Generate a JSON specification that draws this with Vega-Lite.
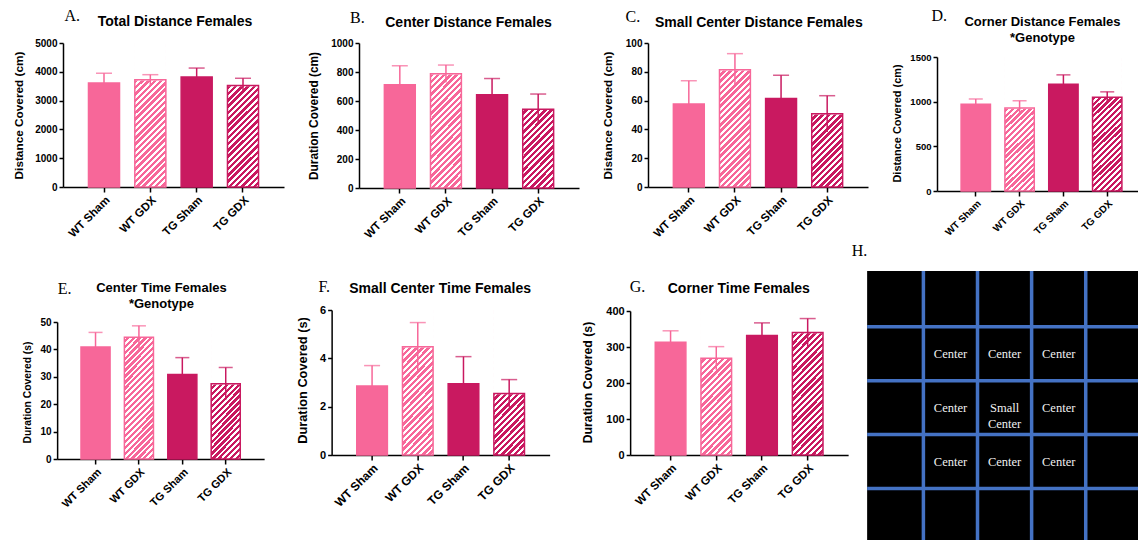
{
  "$schema": "https://vega.github.io/schema/vega-lite/v6.json",
  "background": "white",
  "padding": {"left": 12, "top": 7, "right": 0, "bottom": 0},
  "params": [
    {"name": "hatchWT", "value": {"gradient": "linear", "x1": 0, "y1": 0, "x2": 0.25, "y2": 1.1614, "stops": [
      {"offset":0,"color":"#f76799"},{"offset":0.0196,"color":"#f76799"},{"offset":0.0196,"color":"#fff"},{"offset":0.0357,"color":"#fff"},
      {"offset":0.0357,"color":"#f76799"},{"offset":0.0554,"color":"#f76799"},{"offset":0.0554,"color":"#fff"},{"offset":0.0714,"color":"#fff"},
      {"offset":0.0714,"color":"#f76799"},{"offset":0.0911,"color":"#f76799"},{"offset":0.0911,"color":"#fff"},{"offset":0.1071,"color":"#fff"},
      {"offset":0.1071,"color":"#f76799"},{"offset":0.1268,"color":"#f76799"},{"offset":0.1268,"color":"#fff"},{"offset":0.1429,"color":"#fff"},
      {"offset":0.1429,"color":"#f76799"},{"offset":0.1625,"color":"#f76799"},{"offset":0.1625,"color":"#fff"},{"offset":0.1786,"color":"#fff"},
      {"offset":0.1786,"color":"#f76799"},{"offset":0.1982,"color":"#f76799"},{"offset":0.1982,"color":"#fff"},{"offset":0.2143,"color":"#fff"},
      {"offset":0.2143,"color":"#f76799"},{"offset":0.2339,"color":"#f76799"},{"offset":0.2339,"color":"#fff"},{"offset":0.25,"color":"#fff"},
      {"offset":0.25,"color":"#f76799"},{"offset":0.2696,"color":"#f76799"},{"offset":0.2696,"color":"#fff"},{"offset":0.2857,"color":"#fff"},
      {"offset":0.2857,"color":"#f76799"},{"offset":0.3054,"color":"#f76799"},{"offset":0.3054,"color":"#fff"},{"offset":0.3214,"color":"#fff"},
      {"offset":0.3214,"color":"#f76799"},{"offset":0.3411,"color":"#f76799"},{"offset":0.3411,"color":"#fff"},{"offset":0.3571,"color":"#fff"},
      {"offset":0.3571,"color":"#f76799"},{"offset":0.3768,"color":"#f76799"},{"offset":0.3768,"color":"#fff"},{"offset":0.3929,"color":"#fff"},
      {"offset":0.3929,"color":"#f76799"},{"offset":0.4125,"color":"#f76799"},{"offset":0.4125,"color":"#fff"},{"offset":0.4286,"color":"#fff"},
      {"offset":0.4286,"color":"#f76799"},{"offset":0.4482,"color":"#f76799"},{"offset":0.4482,"color":"#fff"},{"offset":0.4643,"color":"#fff"},
      {"offset":0.4643,"color":"#f76799"},{"offset":0.4839,"color":"#f76799"},{"offset":0.4839,"color":"#fff"},{"offset":0.5,"color":"#fff"},
      {"offset":0.5,"color":"#f76799"},{"offset":0.5196,"color":"#f76799"},{"offset":0.5196,"color":"#fff"},{"offset":0.5357,"color":"#fff"},
      {"offset":0.5357,"color":"#f76799"},{"offset":0.5554,"color":"#f76799"},{"offset":0.5554,"color":"#fff"},{"offset":0.5714,"color":"#fff"},
      {"offset":0.5714,"color":"#f76799"},{"offset":0.5911,"color":"#f76799"},{"offset":0.5911,"color":"#fff"},{"offset":0.6071,"color":"#fff"},
      {"offset":0.6071,"color":"#f76799"},{"offset":0.6268,"color":"#f76799"},{"offset":0.6268,"color":"#fff"},{"offset":0.6429,"color":"#fff"},
      {"offset":0.6429,"color":"#f76799"},{"offset":0.6625,"color":"#f76799"},{"offset":0.6625,"color":"#fff"},{"offset":0.6786,"color":"#fff"},
      {"offset":0.6786,"color":"#f76799"},{"offset":0.6982,"color":"#f76799"},{"offset":0.6982,"color":"#fff"},{"offset":0.7143,"color":"#fff"},
      {"offset":0.7143,"color":"#f76799"},{"offset":0.7339,"color":"#f76799"},{"offset":0.7339,"color":"#fff"},{"offset":0.75,"color":"#fff"},
      {"offset":0.75,"color":"#f76799"},{"offset":0.7696,"color":"#f76799"},{"offset":0.7696,"color":"#fff"},{"offset":0.7857,"color":"#fff"},
      {"offset":0.7857,"color":"#f76799"},{"offset":0.8054,"color":"#f76799"},{"offset":0.8054,"color":"#fff"},{"offset":0.8214,"color":"#fff"},
      {"offset":0.8214,"color":"#f76799"},{"offset":0.8411,"color":"#f76799"},{"offset":0.8411,"color":"#fff"},{"offset":0.8571,"color":"#fff"},
      {"offset":0.8571,"color":"#f76799"},{"offset":0.8768,"color":"#f76799"},{"offset":0.8768,"color":"#fff"},{"offset":0.8929,"color":"#fff"},
      {"offset":0.8929,"color":"#f76799"},{"offset":0.9125,"color":"#f76799"},{"offset":0.9125,"color":"#fff"},{"offset":0.9286,"color":"#fff"},
      {"offset":0.9286,"color":"#f76799"},{"offset":0.9482,"color":"#f76799"},{"offset":0.9482,"color":"#fff"},{"offset":0.9643,"color":"#fff"},
      {"offset":0.9643,"color":"#f76799"},{"offset":0.9839,"color":"#f76799"},{"offset":0.9839,"color":"#fff"},{"offset":1,"color":"#fff"}
    ]}},
    {"name": "hatchTG", "value": {"gradient": "linear", "x1": 0, "y1": 0, "x2": 0.25, "y2": 1.1614, "stops": [
      {"offset":0,"color":"#c91960"},{"offset":0.0196,"color":"#c91960"},{"offset":0.0196,"color":"#fff"},{"offset":0.0357,"color":"#fff"},
      {"offset":0.0357,"color":"#c91960"},{"offset":0.0554,"color":"#c91960"},{"offset":0.0554,"color":"#fff"},{"offset":0.0714,"color":"#fff"},
      {"offset":0.0714,"color":"#c91960"},{"offset":0.0911,"color":"#c91960"},{"offset":0.0911,"color":"#fff"},{"offset":0.1071,"color":"#fff"},
      {"offset":0.1071,"color":"#c91960"},{"offset":0.1268,"color":"#c91960"},{"offset":0.1268,"color":"#fff"},{"offset":0.1429,"color":"#fff"},
      {"offset":0.1429,"color":"#c91960"},{"offset":0.1625,"color":"#c91960"},{"offset":0.1625,"color":"#fff"},{"offset":0.1786,"color":"#fff"},
      {"offset":0.1786,"color":"#c91960"},{"offset":0.1982,"color":"#c91960"},{"offset":0.1982,"color":"#fff"},{"offset":0.2143,"color":"#fff"},
      {"offset":0.2143,"color":"#c91960"},{"offset":0.2339,"color":"#c91960"},{"offset":0.2339,"color":"#fff"},{"offset":0.25,"color":"#fff"},
      {"offset":0.25,"color":"#c91960"},{"offset":0.2696,"color":"#c91960"},{"offset":0.2696,"color":"#fff"},{"offset":0.2857,"color":"#fff"},
      {"offset":0.2857,"color":"#c91960"},{"offset":0.3054,"color":"#c91960"},{"offset":0.3054,"color":"#fff"},{"offset":0.3214,"color":"#fff"},
      {"offset":0.3214,"color":"#c91960"},{"offset":0.3411,"color":"#c91960"},{"offset":0.3411,"color":"#fff"},{"offset":0.3571,"color":"#fff"},
      {"offset":0.3571,"color":"#c91960"},{"offset":0.3768,"color":"#c91960"},{"offset":0.3768,"color":"#fff"},{"offset":0.3929,"color":"#fff"},
      {"offset":0.3929,"color":"#c91960"},{"offset":0.4125,"color":"#c91960"},{"offset":0.4125,"color":"#fff"},{"offset":0.4286,"color":"#fff"},
      {"offset":0.4286,"color":"#c91960"},{"offset":0.4482,"color":"#c91960"},{"offset":0.4482,"color":"#fff"},{"offset":0.4643,"color":"#fff"},
      {"offset":0.4643,"color":"#c91960"},{"offset":0.4839,"color":"#c91960"},{"offset":0.4839,"color":"#fff"},{"offset":0.5,"color":"#fff"},
      {"offset":0.5,"color":"#c91960"},{"offset":0.5196,"color":"#c91960"},{"offset":0.5196,"color":"#fff"},{"offset":0.5357,"color":"#fff"},
      {"offset":0.5357,"color":"#c91960"},{"offset":0.5554,"color":"#c91960"},{"offset":0.5554,"color":"#fff"},{"offset":0.5714,"color":"#fff"},
      {"offset":0.5714,"color":"#c91960"},{"offset":0.5911,"color":"#c91960"},{"offset":0.5911,"color":"#fff"},{"offset":0.6071,"color":"#fff"},
      {"offset":0.6071,"color":"#c91960"},{"offset":0.6268,"color":"#c91960"},{"offset":0.6268,"color":"#fff"},{"offset":0.6429,"color":"#fff"},
      {"offset":0.6429,"color":"#c91960"},{"offset":0.6625,"color":"#c91960"},{"offset":0.6625,"color":"#fff"},{"offset":0.6786,"color":"#fff"},
      {"offset":0.6786,"color":"#c91960"},{"offset":0.6982,"color":"#c91960"},{"offset":0.6982,"color":"#fff"},{"offset":0.7143,"color":"#fff"},
      {"offset":0.7143,"color":"#c91960"},{"offset":0.7339,"color":"#c91960"},{"offset":0.7339,"color":"#fff"},{"offset":0.75,"color":"#fff"},
      {"offset":0.75,"color":"#c91960"},{"offset":0.7696,"color":"#c91960"},{"offset":0.7696,"color":"#fff"},{"offset":0.7857,"color":"#fff"},
      {"offset":0.7857,"color":"#c91960"},{"offset":0.8054,"color":"#c91960"},{"offset":0.8054,"color":"#fff"},{"offset":0.8214,"color":"#fff"},
      {"offset":0.8214,"color":"#c91960"},{"offset":0.8411,"color":"#c91960"},{"offset":0.8411,"color":"#fff"},{"offset":0.8571,"color":"#fff"},
      {"offset":0.8571,"color":"#c91960"},{"offset":0.8768,"color":"#c91960"},{"offset":0.8768,"color":"#fff"},{"offset":0.8929,"color":"#fff"},
      {"offset":0.8929,"color":"#c91960"},{"offset":0.9125,"color":"#c91960"},{"offset":0.9125,"color":"#fff"},{"offset":0.9286,"color":"#fff"},
      {"offset":0.9286,"color":"#c91960"},{"offset":0.9482,"color":"#c91960"},{"offset":0.9482,"color":"#fff"},{"offset":0.9643,"color":"#fff"},
      {"offset":0.9643,"color":"#c91960"},{"offset":0.9839,"color":"#c91960"},{"offset":0.9839,"color":"#fff"},{"offset":1,"color":"#fff"}
    ]}}
  ],
  "config": {
    "view": {"stroke": null},
    "axis": {"labelFont": "Liberation Sans", "labelFontWeight": "bold", "labelColor": "black", "titleFont": "Liberation Sans", "titleFontWeight": "bold", "titleColor": "black", "domainColor": "black", "tickColor": "black", "domainWidth": 1.5, "tickWidth": 1.5, "grid": false, "labelOverlap": false, "labelFlush": false, "zindex": 1}
  },
  "vconcat": [
    {
      "spacing": 23,
      "hconcat": [
        {
          "width": 221, "height": 144,
          "data": {"values": [
            {"g": "WT Sham", "m": 3610, "lo": 3270, "hi": 3950},
            {"g": "WT GDX", "m": 3720, "lo": 3540, "hi": 3900},
            {"g": "TG Sham", "m": 3820, "lo": 3510, "hi": 4130},
            {"g": "TG GDX", "m": 3520, "lo": 3265, "hi": 3775}
          ]},
          "encoding": {"x": {"field": "g", "type": "nominal", "sort": null, "scale": {"domain": ["WT Sham", "WT GDX", "TG Sham", "TG GDX"], "paddingInner": 0.33, "paddingOuter": 0.55}, "axis": null}},
          "layer": [
            {"transform": [{"filter": "datum.g === 'WT GDX'"}], "mark": {"type": "bar", "fill": {"expr": "hatchWT"}}, "encoding": {"y": {"datum": 5000, "type": "quantitative", "scale": {"domain": [0, 5000], "nice": false}, "axis": null}, "y2": {"datum": 0}}},
            {"transform": [{"filter": "datum.g === 'TG GDX'"}], "mark": {"type": "bar", "fill": {"expr": "hatchTG"}}, "encoding": {"y": {"datum": 5000, "type": "quantitative", "axis": null}, "y2": {"datum": 0}}},
            {"transform": [{"filter": "indexof(datum.g, 'GDX') >= 0"}], "mark": {"type": "bar", "fill": "white", "stroke": "white", "strokeWidth": 1.5}, "encoding": {"y": {"field": "m", "type": "quantitative", "axis": null}, "y2": {"datum": 5000}}},
            {"mark": {"type": "rule", "strokeWidth": 1.5}, "encoding": {"y": {"field": "lo", "type": "quantitative", "axis": null}, "y2": {"field": "hi"}, "color": {"field": "g", "type": "nominal", "scale": {"domain": ["WT Sham", "WT GDX", "TG Sham", "TG GDX"], "range": ["#f76799", "#f76799", "#c91960", "#c91960"]}, "legend": null}}},
            {"mark": {"type": "tick", "orient": "horizontal", "size": 16, "thickness": 1.5}, "encoding": {
              "x": {"field": "g", "type": "nominal", "sort": null, "scale": {"domain": ["WT Sham", "WT GDX", "TG Sham", "TG GDX"]}, "axis": {"orient": "top", "domain": false, "ticks": false, "labels": false, "minExtent": 0, "title": "Total Distance Females", "titleFontSize": 14, "titleAngle": 0, "titleAlign": "center", "titleBaseline": "alphabetic", "titleX": 111.5, "titleY": -18}},
              "y": {"field": "hi", "type": "quantitative", "axis": {"orient": "right", "domain": false, "ticks": false, "labels": false, "minExtent": 0, "title": "A.", "titleFont": "Liberation Serif", "titleFontWeight": "normal", "titleFontSize": 16, "titleAngle": 0, "titleAlign": "left", "titleBaseline": "alphabetic", "titleX": -220, "titleY": -23}},
              "color": {"field": "g", "type": "nominal", "scale": {"domain": ["WT Sham", "WT GDX", "TG Sham", "TG GDX"], "range": ["#f76799", "#f76799", "#c91960", "#c91960"]}, "legend": null}}},
            {"mark": {"type": "bar", "strokeWidth": 1.5}, "encoding": {
              "x": {"field": "g", "type": "nominal", "sort": null, "scale": {"domain": ["WT Sham", "WT GDX", "TG Sham", "TG GDX"]}, "axis": {"orient": "bottom", "title": null, "labelAngle": -45, "labelAlign": "right", "labelBaseline": "top", "labelFontSize": 11.5, "labelPadding": 2, "tickSize": 5}},
              "y": {"field": "m", "type": "quantitative", "scale": {"domain": [0, 5000], "nice": false}, "axis": {"orient": "left", "values": [0, 1000, 2000, 3000, 4000, 5000], "format": "d", "title": "Distance Covered (cm)", "titleFontSize": 11.8, "titleAngle": -90, "titleAlign": "center", "titleBaseline": "alphabetic", "titleX": -41, "titleY": 72, "labelFontSize": 10, "labelPadding": 2, "tickSize": 4}},
              "fill": {"field": "g", "type": "nominal", "scale": {"domain": ["WT Sham", "WT GDX", "TG Sham", "TG GDX"], "range": ["#f76799", "transparent", "#c91960", "transparent"]}, "legend": null},
              "stroke": {"field": "g", "type": "nominal", "scale": {"domain": ["WT Sham", "WT GDX", "TG Sham", "TG GDX"], "range": ["#f76799", "#f76799", "#c91960", "#c91960"]}, "legend": null}}}
          ],
          "resolve": {"axis": {"x": "independent", "y": "independent"}}
        },
        {
          "width": 220, "height": 145,
          "data": {"values": [
            {"g": "WT Sham", "m": 712, "lo": 581, "hi": 843},
            {"g": "WT GDX", "m": 788, "lo": 728, "hi": 848},
            {"g": "TG Sham", "m": 643, "lo": 531, "hi": 755},
            {"g": "TG GDX", "m": 543, "lo": 438, "hi": 648}
          ]},
          "encoding": {"x": {"field": "g", "type": "nominal", "sort": null, "scale": {"domain": ["WT Sham", "WT GDX", "TG Sham", "TG GDX"], "paddingInner": 0.33, "paddingOuter": 0.55}, "axis": null}},
          "layer": [
            {"transform": [{"filter": "datum.g === 'WT GDX'"}], "mark": {"type": "bar", "fill": {"expr": "hatchWT"}}, "encoding": {"y": {"datum": 1000, "type": "quantitative", "scale": {"domain": [0, 1000], "nice": false}, "axis": null}, "y2": {"datum": 0}}},
            {"transform": [{"filter": "datum.g === 'TG GDX'"}], "mark": {"type": "bar", "fill": {"expr": "hatchTG"}}, "encoding": {"y": {"datum": 1000, "type": "quantitative", "axis": null}, "y2": {"datum": 0}}},
            {"transform": [{"filter": "indexof(datum.g, 'GDX') >= 0"}], "mark": {"type": "bar", "fill": "white", "stroke": "white", "strokeWidth": 1.5}, "encoding": {"y": {"field": "m", "type": "quantitative", "axis": null}, "y2": {"datum": 1000}}},
            {"mark": {"type": "rule", "strokeWidth": 1.5}, "encoding": {"y": {"field": "lo", "type": "quantitative", "axis": null}, "y2": {"field": "hi"}, "color": {"field": "g", "type": "nominal", "scale": {"domain": ["WT Sham", "WT GDX", "TG Sham", "TG GDX"], "range": ["#f76799", "#f76799", "#c91960", "#c91960"]}, "legend": null}}},
            {"mark": {"type": "tick", "orient": "horizontal", "size": 16, "thickness": 1.5}, "encoding": {
              "x": {"field": "g", "type": "nominal", "sort": null, "scale": {"domain": ["WT Sham", "WT GDX", "TG Sham", "TG GDX"]}, "axis": {"orient": "top", "domain": false, "ticks": false, "labels": false, "minExtent": 0, "title": "Center Distance Females", "titleFontSize": 14, "titleAngle": 0, "titleAlign": "center", "titleBaseline": "alphabetic", "titleX": 109, "titleY": -17}},
              "y": {"field": "hi", "type": "quantitative", "axis": {"orient": "right", "domain": false, "ticks": false, "labels": false, "minExtent": 0, "title": "B.", "titleFont": "Liberation Serif", "titleFontWeight": "normal", "titleFontSize": 16, "titleAngle": 0, "titleAlign": "left", "titleBaseline": "alphabetic", "titleX": -229.5, "titleY": -21}},
              "color": {"field": "g", "type": "nominal", "scale": {"domain": ["WT Sham", "WT GDX", "TG Sham", "TG GDX"], "range": ["#f76799", "#f76799", "#c91960", "#c91960"]}, "legend": null}}},
            {"mark": {"type": "bar", "strokeWidth": 1.5}, "encoding": {
              "x": {"field": "g", "type": "nominal", "sort": null, "scale": {"domain": ["WT Sham", "WT GDX", "TG Sham", "TG GDX"]}, "axis": {"orient": "bottom", "title": null, "labelAngle": -45, "labelAlign": "right", "labelBaseline": "top", "labelFontSize": 11.5, "labelPadding": 2, "tickSize": 5}},
              "y": {"field": "m", "type": "quantitative", "scale": {"domain": [0, 1000], "nice": false}, "axis": {"orient": "left", "values": [0, 200, 400, 600, 800, 1000], "format": "d", "title": "Duration Covered (cm)", "titleFontSize": 11.9, "titleAngle": -90, "titleAlign": "center", "titleBaseline": "alphabetic", "titleX": -41.5, "titleY": 72.5, "labelFontSize": 10, "labelPadding": 2, "tickSize": 4}},
              "fill": {"field": "g", "type": "nominal", "scale": {"domain": ["WT Sham", "WT GDX", "TG Sham", "TG GDX"], "range": ["#f76799", "transparent", "#c91960", "transparent"]}, "legend": null},
              "stroke": {"field": "g", "type": "nominal", "scale": {"domain": ["WT Sham", "WT GDX", "TG Sham", "TG GDX"], "range": ["#f76799", "#f76799", "#c91960", "#c91960"]}, "legend": null}}}
          ],
          "resolve": {"axis": {"x": "independent", "y": "independent"}}
        },
        {
          "width": 220, "height": 144,
          "data": {"values": [
            {"g": "WT Sham", "m": 57.6, "lo": 41.4, "hi": 73.8},
            {"g": "WT GDX", "m": 81.5, "lo": 70.4, "hi": 92.6},
            {"g": "TG Sham", "m": 61.5, "lo": 45.4, "hi": 77.6},
            {"g": "TG GDX", "m": 50.8, "lo": 38.2, "hi": 63.4}
          ]},
          "encoding": {"x": {"field": "g", "type": "nominal", "sort": null, "scale": {"domain": ["WT Sham", "WT GDX", "TG Sham", "TG GDX"], "paddingInner": 0.33, "paddingOuter": 0.55}, "axis": null}},
          "layer": [
            {"transform": [{"filter": "datum.g === 'WT GDX'"}], "mark": {"type": "bar", "fill": {"expr": "hatchWT"}}, "encoding": {"y": {"datum": 100, "type": "quantitative", "scale": {"domain": [0, 100], "nice": false}, "axis": null}, "y2": {"datum": 0}}},
            {"transform": [{"filter": "datum.g === 'TG GDX'"}], "mark": {"type": "bar", "fill": {"expr": "hatchTG"}}, "encoding": {"y": {"datum": 100, "type": "quantitative", "axis": null}, "y2": {"datum": 0}}},
            {"transform": [{"filter": "indexof(datum.g, 'GDX') >= 0"}], "mark": {"type": "bar", "fill": "white", "stroke": "white", "strokeWidth": 1.5}, "encoding": {"y": {"field": "m", "type": "quantitative", "axis": null}, "y2": {"datum": 100}}},
            {"mark": {"type": "rule", "strokeWidth": 1.5}, "encoding": {"y": {"field": "lo", "type": "quantitative", "axis": null}, "y2": {"field": "hi"}, "color": {"field": "g", "type": "nominal", "scale": {"domain": ["WT Sham", "WT GDX", "TG Sham", "TG GDX"], "range": ["#f76799", "#f76799", "#c91960", "#c91960"]}, "legend": null}}},
            {"mark": {"type": "tick", "orient": "horizontal", "size": 16, "thickness": 1.5}, "encoding": {
              "x": {"field": "g", "type": "nominal", "sort": null, "scale": {"domain": ["WT Sham", "WT GDX", "TG Sham", "TG GDX"]}, "axis": {"orient": "top", "domain": false, "ticks": false, "labels": false, "minExtent": 0, "title": "Small Center Distance Females", "titleFontSize": 14, "titleAngle": 0, "titleAlign": "center", "titleBaseline": "alphabetic", "titleX": 110.3, "titleY": -17}},
              "y": {"field": "hi", "type": "quantitative", "axis": {"orient": "right", "domain": false, "ticks": false, "labels": false, "minExtent": 0, "title": "C.", "titleFont": "Liberation Serif", "titleFontWeight": "normal", "titleFontSize": 16, "titleAngle": 0, "titleAlign": "left", "titleBaseline": "alphabetic", "titleX": -243, "titleY": -22}},
              "color": {"field": "g", "type": "nominal", "scale": {"domain": ["WT Sham", "WT GDX", "TG Sham", "TG GDX"], "range": ["#f76799", "#f76799", "#c91960", "#c91960"]}, "legend": null}}},
            {"mark": {"type": "bar", "strokeWidth": 1.5}, "encoding": {
              "x": {"field": "g", "type": "nominal", "sort": null, "scale": {"domain": ["WT Sham", "WT GDX", "TG Sham", "TG GDX"]}, "axis": {"orient": "bottom", "title": null, "labelAngle": -45, "labelAlign": "right", "labelBaseline": "top", "labelFontSize": 11.5, "labelPadding": 2, "tickSize": 5}},
              "y": {"field": "m", "type": "quantitative", "scale": {"domain": [0, 100], "nice": false}, "axis": {"orient": "left", "values": [0, 20, 40, 60, 80, 100], "format": "d", "title": "Distance Covered (cm)", "titleFontSize": 11.8, "titleAngle": -90, "titleAlign": "center", "titleBaseline": "alphabetic", "titleX": -36.5, "titleY": 72, "labelFontSize": 10, "labelPadding": 2, "tickSize": 4}},
              "fill": {"field": "g", "type": "nominal", "scale": {"domain": ["WT Sham", "WT GDX", "TG Sham", "TG GDX"], "range": ["#f76799", "transparent", "#c91960", "transparent"]}, "legend": null},
              "stroke": {"field": "g", "type": "nominal", "scale": {"domain": ["WT Sham", "WT GDX", "TG Sham", "TG GDX"], "range": ["#f76799", "#f76799", "#c91960", "#c91960"]}, "legend": null}}}
          ],
          "resolve": {"axis": {"x": "independent", "y": "independent"}}
        },
        {
          "width": 209, "height": 148,
          "data": {"values": [
            {"g": "WT Sham", "m": 972, "lo": 914, "hi": 1030},
            {"g": "WT GDX", "m": 930, "lo": 850, "hi": 1010},
            {"g": "TG Sham", "m": 1195, "lo": 1090, "hi": 1300},
            {"g": "TG GDX", "m": 1050, "lo": 990, "hi": 1110}
          ]},
          "encoding": {"x": {"field": "g", "type": "nominal", "sort": null, "scale": {"domain": ["WT Sham", "WT GDX", "TG Sham", "TG GDX"], "paddingInner": 0.33, "paddingOuter": 0.55}, "axis": null}},
          "layer": [
            {"transform": [{"filter": "datum.g === 'WT GDX'"}], "mark": {"type": "bar", "fill": {"expr": "hatchWT"}}, "encoding": {"y": {"datum": 1500, "type": "quantitative", "scale": {"domain": [0, 1500], "nice": false, "range": [148, 14]}, "axis": null}, "y2": {"datum": 0}}},
            {"transform": [{"filter": "datum.g === 'TG GDX'"}], "mark": {"type": "bar", "fill": {"expr": "hatchTG"}}, "encoding": {"y": {"datum": 1500, "type": "quantitative", "axis": null}, "y2": {"datum": 0}}},
            {"transform": [{"filter": "indexof(datum.g, 'GDX') >= 0"}], "mark": {"type": "bar", "fill": "white", "stroke": "white", "strokeWidth": 1.5}, "encoding": {"y": {"field": "m", "type": "quantitative", "axis": null}, "y2": {"datum": 1500}}},
            {"mark": {"type": "rule", "strokeWidth": 1.5}, "encoding": {"y": {"field": "lo", "type": "quantitative", "axis": null}, "y2": {"field": "hi"}, "color": {"field": "g", "type": "nominal", "scale": {"domain": ["WT Sham", "WT GDX", "TG Sham", "TG GDX"], "range": ["#f76799", "#f76799", "#c91960", "#c91960"]}, "legend": null}}},
            {"mark": {"type": "tick", "orient": "horizontal", "size": 14, "thickness": 1.5}, "encoding": {
              "x": {"field": "g", "type": "nominal", "sort": null, "scale": {"domain": ["WT Sham", "WT GDX", "TG Sham", "TG GDX"]}, "axis": {"orient": "top", "domain": false, "ticks": false, "labels": false, "minExtent": 0, "title": ["Corner Distance Females", "*Genotype"], "titleFontSize": 13, "titleLineHeight": 16, "titleAngle": 0, "titleAlign": "center", "titleBaseline": "alphabetic", "titleX": 105, "titleY": -18}},
              "y": {"field": "hi", "type": "quantitative", "axis": {"orient": "right", "domain": false, "ticks": false, "labels": false, "minExtent": 0, "title": "D.", "titleFont": "Liberation Serif", "titleFontWeight": "normal", "titleFontSize": 16, "titleAngle": 0, "titleAlign": "left", "titleBaseline": "alphabetic", "titleX": -215, "titleY": -23}},
              "color": {"field": "g", "type": "nominal", "scale": {"domain": ["WT Sham", "WT GDX", "TG Sham", "TG GDX"], "range": ["#f76799", "#f76799", "#c91960", "#c91960"]}, "legend": null}}},
            {"mark": {"type": "bar", "strokeWidth": 1.5}, "encoding": {
              "x": {"field": "g", "type": "nominal", "sort": null, "scale": {"domain": ["WT Sham", "WT GDX", "TG Sham", "TG GDX"]}, "axis": {"orient": "bottom", "title": null, "labelAngle": -45, "labelAlign": "right", "labelBaseline": "top", "labelFontSize": 10, "labelPadding": 2, "tickSize": 5}},
              "y": {"field": "m", "type": "quantitative", "scale": {"domain": [0, 1500], "nice": false, "range": [148, 14]}, "axis": {"orient": "left", "values": [0, 500, 1000, 1500], "format": "d", "title": "Distance Covered (cm)", "titleFontSize": 10.9, "titleAngle": -90, "titleAlign": "center", "titleBaseline": "alphabetic", "titleX": -37, "titleY": 80, "labelFontSize": 9.5, "labelPadding": 2, "tickSize": 4}},
              "fill": {"field": "g", "type": "nominal", "scale": {"domain": ["WT Sham", "WT GDX", "TG Sham", "TG GDX"], "range": ["#f76799", "transparent", "#c91960", "transparent"]}, "legend": null},
              "stroke": {"field": "g", "type": "nominal", "scale": {"domain": ["WT Sham", "WT GDX", "TG Sham", "TG GDX"], "range": ["#f76799", "#f76799", "#c91960", "#c91960"]}, "legend": null}}}
          ],
          "resolve": {"axis": {"x": "independent", "y": "independent"}}
        }
      ]
    },
    {
      "spacing": 3,
      "hconcat": [
        {
          "spacing": 31.5,
          "hconcat": [
            {
              "width": 207, "height": 188,
              "data": {"values": [
                {"g": "WT Sham", "m": 40.9, "lo": 35.6, "hi": 46.2},
                {"g": "WT GDX", "m": 44.4, "lo": 40.2, "hi": 48.6},
                {"g": "TG Sham", "m": 30.8, "lo": 24.6, "hi": 37.0},
                {"g": "TG GDX", "m": 27.5, "lo": 21.6, "hi": 33.4}
              ]},
              "encoding": {"x": {"field": "g", "type": "nominal", "sort": null, "scale": {"domain": ["WT Sham", "WT GDX", "TG Sham", "TG GDX"], "paddingInner": 0.33, "paddingOuter": 0.55}, "axis": null}},
              "layer": [
                {"transform": [{"filter": "datum.g === 'WT GDX'"}], "mark": {"type": "bar", "fill": {"expr": "hatchWT"}}, "encoding": {"y": {"datum": 50, "type": "quantitative", "scale": {"domain": [0, 50], "nice": false, "range": [188, 51]}, "axis": null}, "y2": {"datum": 0}}},
                {"transform": [{"filter": "datum.g === 'TG GDX'"}], "mark": {"type": "bar", "fill": {"expr": "hatchTG"}}, "encoding": {"y": {"datum": 50, "type": "quantitative", "axis": null}, "y2": {"datum": 0}}},
                {"transform": [{"filter": "indexof(datum.g, 'GDX') >= 0"}], "mark": {"type": "bar", "fill": "white", "stroke": "white", "strokeWidth": 1.5}, "encoding": {"y": {"field": "m", "type": "quantitative", "axis": null}, "y2": {"datum": 50}}},
                {"mark": {"type": "rule", "strokeWidth": 1.5}, "encoding": {"y": {"field": "lo", "type": "quantitative", "axis": null}, "y2": {"field": "hi"}, "color": {"field": "g", "type": "nominal", "scale": {"domain": ["WT Sham", "WT GDX", "TG Sham", "TG GDX"], "range": ["#f76799", "#f76799", "#c91960", "#c91960"]}, "legend": null}}},
                {"mark": {"type": "tick", "orient": "horizontal", "size": 14, "thickness": 1.5}, "encoding": {
                  "x": {"field": "g", "type": "nominal", "sort": null, "scale": {"domain": ["WT Sham", "WT GDX", "TG Sham", "TG GDX"]}, "axis": {"orient": "top", "domain": false, "ticks": false, "labels": false, "minExtent": 0, "title": ["Center Time Females", "*Genotype"], "titleFontSize": 13, "titleLineHeight": 15.6, "titleAngle": 0, "titleAlign": "center", "titleBaseline": "alphabetic", "titleX": 103.8, "titleY": 20.7}},
                  "y": {"field": "hi", "type": "quantitative", "axis": {"orient": "right", "domain": false, "ticks": false, "labels": false, "minExtent": 0, "title": "E.", "titleFont": "Liberation Serif", "titleFontWeight": "normal", "titleFontSize": 16, "titleAngle": 0, "titleAlign": "left", "titleBaseline": "alphabetic", "titleX": -207, "titleY": 22.5}},
                  "color": {"field": "g", "type": "nominal", "scale": {"domain": ["WT Sham", "WT GDX", "TG Sham", "TG GDX"], "range": ["#f76799", "#f76799", "#c91960", "#c91960"]}, "legend": null}}},
                {"mark": {"type": "bar", "strokeWidth": 1.5}, "encoding": {
                  "x": {"field": "g", "type": "nominal", "sort": null, "scale": {"domain": ["WT Sham", "WT GDX", "TG Sham", "TG GDX"]}, "axis": {"orient": "bottom", "title": null, "labelAngle": -45, "labelAlign": "right", "labelBaseline": "top", "labelFontSize": 11, "labelPadding": 2, "tickSize": 5}},
                  "y": {"field": "m", "type": "quantitative", "scale": {"domain": [0, 50], "nice": false, "range": [188, 51]}, "axis": {"orient": "left", "values": [0, 10, 20, 30, 40, 50], "format": "d", "title": "Duration Covered (s)", "titleFontSize": 10.3, "titleAngle": -90, "titleAlign": "center", "titleBaseline": "alphabetic", "titleX": -27, "titleY": 121, "labelFontSize": 10, "labelPadding": 2, "tickSize": 4}},
                  "fill": {"field": "g", "type": "nominal", "scale": {"domain": ["WT Sham", "WT GDX", "TG Sham", "TG GDX"], "range": ["#f76799", "transparent", "#c91960", "transparent"]}, "legend": null},
                  "stroke": {"field": "g", "type": "nominal", "scale": {"domain": ["WT Sham", "WT GDX", "TG Sham", "TG GDX"], "range": ["#f76799", "#f76799", "#c91960", "#c91960"]}, "legend": null}}}
              ],
              "resolve": {"axis": {"x": "independent", "y": "independent"}}
            },
            {
              "width": 218, "height": 184,
              "data": {"values": [
                {"g": "WT Sham", "m": 2.86, "lo": 2.02, "hi": 3.70},
                {"g": "WT GDX", "m": 4.48, "lo": 3.48, "hi": 5.48},
                {"g": "TG Sham", "m": 2.95, "lo": 1.83, "hi": 4.07},
                {"g": "TG GDX", "m": 2.55, "lo": 1.98, "hi": 3.12}
              ]},
              "encoding": {"x": {"field": "g", "type": "nominal", "sort": null, "scale": {"domain": ["WT Sham", "WT GDX", "TG Sham", "TG GDX"], "paddingInner": 0.33, "paddingOuter": 0.55}, "axis": null}},
              "layer": [
                {"transform": [{"filter": "datum.g === 'WT GDX'"}], "mark": {"type": "bar", "fill": {"expr": "hatchWT"}}, "encoding": {"y": {"datum": 6, "type": "quantitative", "scale": {"domain": [0, 6], "nice": false, "range": [184, 39]}, "axis": null}, "y2": {"datum": 0}}},
                {"transform": [{"filter": "datum.g === 'TG GDX'"}], "mark": {"type": "bar", "fill": {"expr": "hatchTG"}}, "encoding": {"y": {"datum": 6, "type": "quantitative", "axis": null}, "y2": {"datum": 0}}},
                {"transform": [{"filter": "indexof(datum.g, 'GDX') >= 0"}], "mark": {"type": "bar", "fill": "white", "stroke": "white", "strokeWidth": 1.5}, "encoding": {"y": {"field": "m", "type": "quantitative", "axis": null}, "y2": {"datum": 6}}},
                {"mark": {"type": "rule", "strokeWidth": 1.5}, "encoding": {"y": {"field": "lo", "type": "quantitative", "axis": null}, "y2": {"field": "hi"}, "color": {"field": "g", "type": "nominal", "scale": {"domain": ["WT Sham", "WT GDX", "TG Sham", "TG GDX"], "range": ["#f76799", "#f76799", "#c91960", "#c91960"]}, "legend": null}}},
                {"mark": {"type": "tick", "orient": "horizontal", "size": 16, "thickness": 1.5}, "encoding": {
                  "x": {"field": "g", "type": "nominal", "sort": null, "scale": {"domain": ["WT Sham", "WT GDX", "TG Sham", "TG GDX"]}, "axis": {"orient": "top", "domain": false, "ticks": false, "labels": false, "minExtent": 0, "title": "Small Center Time Females", "titleFontSize": 14, "titleAngle": 0, "titleAlign": "center", "titleBaseline": "alphabetic", "titleX": 108, "titleY": 21.5}},
                  "y": {"field": "hi", "type": "quantitative", "axis": {"orient": "right", "domain": false, "ticks": false, "labels": false, "minExtent": 0, "title": "F.", "titleFont": "Liberation Serif", "titleFontWeight": "normal", "titleFontSize": 16, "titleAngle": 0, "titleAlign": "left", "titleBaseline": "alphabetic", "titleX": -231.7, "titleY": 20.5}},
                  "color": {"field": "g", "type": "nominal", "scale": {"domain": ["WT Sham", "WT GDX", "TG Sham", "TG GDX"], "range": ["#f76799", "#f76799", "#c91960", "#c91960"]}, "legend": null}}},
                {"mark": {"type": "bar", "strokeWidth": 1.5}, "encoding": {
                  "x": {"field": "g", "type": "nominal", "sort": null, "scale": {"domain": ["WT Sham", "WT GDX", "TG Sham", "TG GDX"]}, "axis": {"orient": "bottom", "title": null, "labelAngle": -45, "labelAlign": "right", "labelBaseline": "top", "labelFontSize": 12, "labelPadding": 2, "tickSize": 5}},
                  "y": {"field": "m", "type": "quantitative", "scale": {"domain": [0, 6], "nice": false, "range": [184, 39]}, "axis": {"orient": "left", "values": [0, 2, 4, 6], "format": "d", "title": "Duration Covered (s)", "titleFontSize": 12.8, "titleAngle": -90, "titleAlign": "center", "titleBaseline": "alphabetic", "titleX": -25.5, "titleY": 109, "labelFontSize": 11, "labelPadding": 2, "tickSize": 4}},
                  "fill": {"field": "g", "type": "nominal", "scale": {"domain": ["WT Sham", "WT GDX", "TG Sham", "TG GDX"], "range": ["#f76799", "transparent", "#c91960", "transparent"]}, "legend": null},
                  "stroke": {"field": "g", "type": "nominal", "scale": {"domain": ["WT Sham", "WT GDX", "TG Sham", "TG GDX"], "range": ["#f76799", "#f76799", "#c91960", "#c91960"]}, "legend": null}}}
              ],
              "resolve": {"axis": {"x": "independent", "y": "independent"}}
            },
            {
              "width": 218, "height": 184,
              "data": {"values": [
                {"g": "WT Sham", "m": 313, "lo": 281, "hi": 345},
                {"g": "WT GDX", "m": 269, "lo": 237, "hi": 301},
                {"g": "TG Sham", "m": 332, "lo": 297, "hi": 367},
                {"g": "TG GDX", "m": 340, "lo": 301, "hi": 379}
              ]},
              "encoding": {"x": {"field": "g", "type": "nominal", "sort": null, "scale": {"domain": ["WT Sham", "WT GDX", "TG Sham", "TG GDX"], "paddingInner": 0.33, "paddingOuter": 0.55}, "axis": null}},
              "layer": [
                {"transform": [{"filter": "datum.g === 'WT GDX'"}], "mark": {"type": "bar", "fill": {"expr": "hatchWT"}}, "encoding": {"y": {"datum": 400, "type": "quantitative", "scale": {"domain": [0, 400], "nice": false, "range": [184, 40]}, "axis": null}, "y2": {"datum": 0}}},
                {"transform": [{"filter": "datum.g === 'TG GDX'"}], "mark": {"type": "bar", "fill": {"expr": "hatchTG"}}, "encoding": {"y": {"datum": 400, "type": "quantitative", "axis": null}, "y2": {"datum": 0}}},
                {"transform": [{"filter": "indexof(datum.g, 'GDX') >= 0"}], "mark": {"type": "bar", "fill": "white", "stroke": "white", "strokeWidth": 1.5}, "encoding": {"y": {"field": "m", "type": "quantitative", "axis": null}, "y2": {"datum": 400}}},
                {"mark": {"type": "rule", "strokeWidth": 1.5}, "encoding": {"y": {"field": "lo", "type": "quantitative", "axis": null}, "y2": {"field": "hi"}, "color": {"field": "g", "type": "nominal", "scale": {"domain": ["WT Sham", "WT GDX", "TG Sham", "TG GDX"], "range": ["#f76799", "#f76799", "#c91960", "#c91960"]}, "legend": null}}},
                {"mark": {"type": "tick", "orient": "horizontal", "size": 16, "thickness": 1.5}, "encoding": {
                  "x": {"field": "g", "type": "nominal", "sort": null, "scale": {"domain": ["WT Sham", "WT GDX", "TG Sham", "TG GDX"]}, "axis": {"orient": "top", "domain": false, "ticks": false, "labels": false, "minExtent": 0, "title": "Corner Time Females", "titleFontSize": 14, "titleAngle": 0, "titleAlign": "center", "titleBaseline": "alphabetic", "titleX": 108.2, "titleY": 21.5}},
                  "y": {"field": "hi", "type": "quantitative", "axis": {"orient": "right", "domain": false, "ticks": false, "labels": false, "minExtent": 0, "title": "G.", "titleFont": "Liberation Serif", "titleFontWeight": "normal", "titleFontSize": 16, "titleAngle": 0, "titleAlign": "left", "titleBaseline": "alphabetic", "titleX": -219, "titleY": 20.5}},
                  "color": {"field": "g", "type": "nominal", "scale": {"domain": ["WT Sham", "WT GDX", "TG Sham", "TG GDX"], "range": ["#f76799", "#f76799", "#c91960", "#c91960"]}, "legend": null}}},
                {"mark": {"type": "bar", "strokeWidth": 1.5}, "encoding": {
                  "x": {"field": "g", "type": "nominal", "sort": null, "scale": {"domain": ["WT Sham", "WT GDX", "TG Sham", "TG GDX"]}, "axis": {"orient": "bottom", "title": null, "labelAngle": -45, "labelAlign": "right", "labelBaseline": "top", "labelFontSize": 11.5, "labelPadding": 2, "tickSize": 5}},
                  "y": {"field": "m", "type": "quantitative", "scale": {"domain": [0, 400], "nice": false, "range": [184, 40]}, "axis": {"orient": "left", "values": [0, 100, 200, 300, 400], "format": "d", "title": "Duration Covered (s)", "titleFontSize": 12.3, "titleAngle": -90, "titleAlign": "center", "titleBaseline": "alphabetic", "titleX": -38.5, "titleY": 111, "labelFontSize": 11, "labelPadding": 2, "tickSize": 4}},
                  "fill": {"field": "g", "type": "nominal", "scale": {"domain": ["WT Sham", "WT GDX", "TG Sham", "TG GDX"], "range": ["#f76799", "transparent", "#c91960", "transparent"]}, "legend": null},
                  "stroke": {"field": "g", "type": "nominal", "scale": {"domain": ["WT Sham", "WT GDX", "TG Sham", "TG GDX"], "range": ["#f76799", "#f76799", "#c91960", "#c91960"]}, "legend": null}}}
              ],
              "resolve": {"axis": {"x": "independent", "y": "independent"}}
            }
          ]
        },
        {
          "width": 283, "height": 270,
          "view": {"fill": "black", "stroke": null},
          "layer": [
            {"data": {"values": [{"p": 1}, {"p": 2}, {"p": 3}, {"p": 4}]}, "mark": {"type": "rule", "color": "#4472c4", "strokeWidth": 3.5},
             "encoding": {"x": {"field": "p", "type": "quantitative", "scale": {"domain": [-0.04, 5.19], "nice": false, "zero": false}, "axis": null}}},
            {"data": {"values": [{"p": 1}, {"p": 2}, {"p": 3}, {"p": 4}]}, "mark": {"type": "rule", "color": "#4472c4", "strokeWidth": 3.5},
             "encoding": {"y": {"field": "p", "type": "quantitative", "scale": {"domain": [-0.035, 4.975], "nice": false, "zero": false, "reverse": true}, "axis": null}}},
            {"data": {"values": [
              {"cx": 1.5, "cy": 1.5, "t": "Center"}, {"cx": 2.5, "cy": 1.5, "t": "Center"}, {"cx": 3.5, "cy": 1.5, "t": "Center"},
              {"cx": 1.5, "cy": 2.5, "t": "Center"}, {"cx": 2.5, "cy": 2.5, "t": "Small\nCenter"}, {"cx": 3.5, "cy": 2.5, "t": "Center"},
              {"cx": 1.5, "cy": 3.5, "t": "Center"}, {"cx": 2.5, "cy": 3.5, "t": "Center"}, {"cx": 3.5, "cy": 3.5, "t": "Center"}
             ]},
             "mark": {"type": "text", "font": "Liberation Serif", "fontSize": 12.5, "color": "#f0f0f0", "lineBreak": "\n", "lineHeight": 16.5, "align": "center", "baseline": "middle"},
             "encoding": {
               "x": {"field": "cx", "type": "quantitative", "axis": null},
               "y": {"field": "cy", "type": "quantitative", "axis": {"orient": "right", "domain": false, "ticks": false, "labels": false, "minExtent": 0, "title": "H.", "titleFont": "Liberation Serif", "titleFontWeight": "normal", "titleFontSize": 16, "titleAngle": 0, "titleAlign": "left", "titleBaseline": "alphabetic", "titleX": -299, "titleY": -16}},
               "text": {"field": "t"}}}
          ],
          "resolve": {"axis": {"x": "independent", "y": "independent"}}
        }
      ]
    }
  ],
  "spacing": 1,
  "center": true
}
